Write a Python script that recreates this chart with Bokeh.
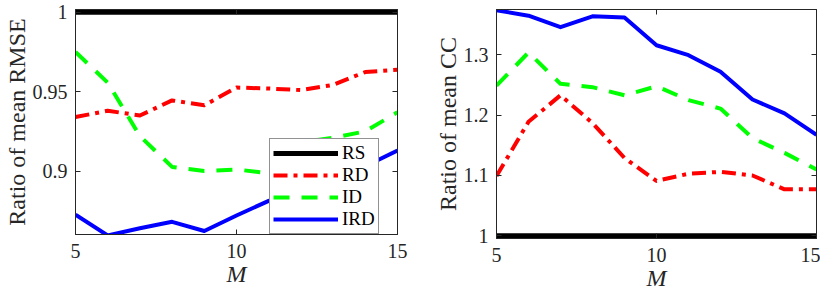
from bokeh.plotting import figure
from bokeh.layouts import row
from bokeh.models import LinearAxis, FixedTicker, Range1d, Legend, LegendItem
from bokeh.embed import file_html
from bokeh.resources import INLINE

M = [5, 6, 7, 8, 9, 10, 11, 12, 13, 14, 15]

rmse_rs = [1.0, 1.0, 1.0, 1.0, 1.0, 1.0, 1.0, 1.0, 1.0, 1.0, 1.0]
rmse_rd = [0.934, 0.938, 0.935, 0.9445, 0.9414, 0.9526, 0.952, 0.951, 0.9543, 0.9624, 0.9638]
rmse_id = [0.975, 0.9557, 0.922, 0.9026, 0.900, 0.901, 0.8986, 0.918, 0.921, 0.925, 0.937]
rmse_ird = [0.8725, 0.8594, 0.8639, 0.868, 0.8622, 0.872, 0.8812, 0.888, 0.896, 0.903, 0.9129]

cc_rs = [1.0, 1.0, 1.0, 1.0, 1.0, 1.0, 1.0, 1.0, 1.0, 1.0, 1.0]
cc_rd = [1.099, 1.189, 1.233, 1.187, 1.129, 1.091, 1.103, 1.106, 1.100, 1.077, 1.077]
cc_id = [1.249, 1.304, 1.252, 1.2465, 1.233, 1.248, 1.225, 1.211, 1.162, 1.1375, 1.110]
cc_ird = [1.374, 1.365, 1.346, 1.364, 1.362, 1.316, 1.2995, 1.272, 1.226, 1.203, 1.1675]

x_ticks = [5, 10, 15]
x_tick_labels = ["5", "10", "15"]
rmse_ticks = [0.9, 0.95, 1.0]
rmse_tick_labels = ["0.9", "0.95", "1"]
cc_ticks = [1.0, 1.1, 1.2, 1.3]
cc_tick_labels = ["1", "1.1", "1.2", "1.3"]

series_names = ["RS", "RD", "ID", "IRD"]
FONT = "'Liberation Serif', 'Times New Roman', serif"
AX = "#262626"

styles = {
    "RS": dict(line_color="black", line_width=5, line_dash="solid"),
    "RD": dict(line_color="#FF0000", line_width=4, line_dash="14 6 4 6"),
    "ID": dict(line_color="#00FF00", line_width=4, line_dash="16 12"),
    "IRD": dict(line_color="#0000FF", line_width=4, line_dash="solid"),
}


def style_axis(ax, ticks, labels, show_labels=True):
    ax.ticker = FixedTicker(ticks=ticks)
    ax.major_tick_in = 5
    ax.major_tick_out = 0
    ax.minor_tick_line_color = None
    ax.axis_line_color = AX
    ax.major_tick_line_color = AX
    ax.major_label_text_font = FONT
    ax.major_label_text_color = AX
    if show_labels:
        ax.major_label_overrides = dict(zip(ticks, labels))
        ax.major_label_text_font_size = "20px"
    else:
        ax.major_label_overrides = {t: "" for t in ticks}
        ax.major_label_text_font_size = "0px"
        ax.major_label_standoff = 0


def make_fig(yr, yticks, ylabels, ylabel, frame_w, frame_h, bl, br, bt, bb):
    p = figure(output_backend="svg", toolbar_location=None,
               frame_width=frame_w, frame_height=frame_h,
               x_range=Range1d(5, 15), y_range=Range1d(*yr),
               min_border_left=bl, min_border_right=br,
               min_border_top=bt, min_border_bottom=bb)
    p.grid.visible = False
    p.outline_line_color = AX
    p.background_fill_color = "white"
    p.border_fill_color = "white"
    style_axis(p.xaxis[0], x_ticks, x_tick_labels)
    style_axis(p.yaxis[0], yticks, ylabels)
    p.xaxis[0].major_label_standoff = 9
    p.yaxis[0].major_label_standoff = 8
    p.xaxis[0].axis_label = "M"
    p.xaxis[0].axis_label_text_font = FONT
    p.xaxis[0].axis_label_text_font_style = "italic"
    p.xaxis[0].axis_label_text_font_size = "24px"
    p.xaxis[0].axis_label_text_color = AX
    p.xaxis[0].axis_label_standoff = 0
    p.yaxis[0].axis_label = ylabel
    p.yaxis[0].axis_label_text_font = FONT
    p.yaxis[0].axis_label_text_font_style = "normal"
    p.yaxis[0].axis_label_text_font_size = "24px"
    p.yaxis[0].axis_label_text_color = AX
    p.yaxis[0].axis_label_standoff = 0
    top = LinearAxis()
    style_axis(top, x_ticks, x_tick_labels, show_labels=False)
    p.add_layout(top, "above")
    right = LinearAxis()
    style_axis(right, yticks, ylabels, show_labels=False)
    p.add_layout(right, "right")
    return p


p1 = make_fig((0.86, 1.0018), rmse_ticks, rmse_tick_labels, "Ratio of mean RMSE",
              322, 225, 69, 25, 9, 48)
p2 = make_fig((0.9955, 1.3753), cc_ticks, cc_tick_labels, "Ratio of mean CC",
              320, 229, 74, 4, 5, 48)

rmse_data = {"RS": rmse_rs, "RD": rmse_rd, "ID": rmse_id, "IRD": rmse_ird}
cc_data = {"RS": cc_rs, "RD": cc_rd, "ID": cc_id, "IRD": cc_ird}

items = []
for name in series_names:
    r = p1.line(M, rmse_data[name], line_join="round", **styles[name])
    items.append(LegendItem(label=name, renderers=[r]))
    p2.line(M, cc_data[name], line_join="round", **styles[name])

legend = Legend(items=items, location=(194, 0), margin=0, padding=3, spacing=0,
                glyph_width=65, glyph_height=20, label_height=20, label_standoff=4,
                label_text_font=FONT, label_text_font_size="19px",
                label_text_color="black", border_line_color=AX,
                border_line_width=1, background_fill_color="white",
                background_fill_alpha=1.0)
p1.add_layout(legend, "center")

layout = row(p1, p2, spacing=0)
open("out.html", "w").write(file_html(layout, INLINE))
